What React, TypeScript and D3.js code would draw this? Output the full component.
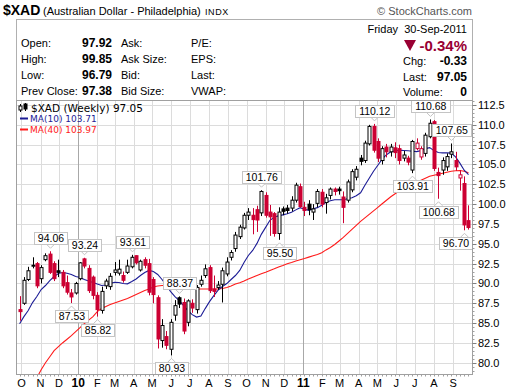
import React from "react";
import * as d3 from "d3";

const W = 520;
const H = 391;

// weekly bars, one per week (Monday of each week), Sep 2009 .. Sep 2011
const weekStarts = d3.timeMonday.range(new Date(2009, 8, 28), new Date(2011, 8, 27));

const priorClose = 87.0;
const opens = [86.7,87.5,90.5,92.2,92.5,90.6,93.0,93.7,92.5,91.6, 91.4,90.1,88.8,88.8,90.6,93.1,91.9,90.8,88.5,86.6,
  89.7,89.6,91.4,91.3,91.0,91.4,92.1,93.5,91.7,93.0, 92.5,90.5,88.2,82.8,83.3,81.7,86.0,88.2,87.6,85.1,
  87.5,86.7,89.9,91.0,92.0,89.3,89.5,89.9,91.2,93.3, 94.4,95.9,97.0,98.6,98.6,99.3,98.9,101.1,99.0,98.8,
  96.3,99.4,99.5,99.5,100.5,102.2,99.6,100.0,99.0,100.1, 101.5,100.2,101.1,101.9,101.9,100.9,100.5,101.8,103.4,105.8,
  105.5,107.6,109.8,107.9,105.5,107.2,106.6,107.1,107.0,105.8, 105.8,104.3,107.0,105.95,106.4,108.5,110.4,104.0,104.3,104.7,
  106.3,105.5,103.3,102.6,97.92];
const highs = [88.4,90.8,92.1,93.3,92.7,92.3,93.8,94.06,92.8,93.0, 91.7,91.0,89.3,90.2,92.7,93.24,92.3,91.0,88.9,89.6,
  90.6,91.3,92.7,93.0,91.5,93.0,93.61,93.55,93.0,93.3, 93.1,90.8,88.5,85.5,84.0,85.5,87.9,88.37,88.1,88.0,
  88.0,89.8,91.0,92.4,92.3,91.0,90.3,92.0,93.3,94.2, 96.5,97.4,98.9,99.5,99.5,99.8,101.76,101.5,99.9,99.0,
  99.6,99.7,99.9,101.0,102.7,102.6,100.3,100.5,100.0,101.9, 101.9,101.3,102.1,102.1,102.2,101.6,103.1,104.4,104.8,106.2,
  108.0,110.0,110.12,108.3,107.3,107.6,107.6,107.8,107.5,106.7, 106.1,108.1,108.3,107.3,109.0,110.68,110.6,104.6,105.9,106.4,
  107.65,106.6,104.3,103.5,99.85];
const lows = [85.3,87.3,90.3,91.9,89.4,90.0,92.8,91.2,90.3,90.8, 89.4,88.6,87.53,88.6,90.4,91.9,88.8,88.0,85.82,86.2,
  89.3,89.2,91.0,91.0,90.1,91.2,91.9,92.4,91.5,91.9, 88.5,87.5,81.8,81.9,81.7,80.93,85.3,86.9,83.6,84.6,
  86.3,86.2,89.6,90.7,88.8,88.3,89.2,87.6,90.9,92.9, 94.0,95.6,96.8,98.0,96.2,96.5,98.5,98.3,96.0,95.9,
  95.5,98.6,98.8,99.1,100.2,99.5,98.5,98.6,98.0,99.6, 99.6,98.8,100.6,101.1,101.2,97.6,100.2,101.5,103.0,104.9,
  105.2,107.4,106.5,105.3,105.0,105.9,106.0,105.8,105.0,105.4, 104.9,103.91,106.8,105.6,106.0,108.3,104.2,100.68,103.7,104.2,
  105.8,104.2,101.7,96.70,96.79];
const closes = [86.45,90.4,91.6,92.3,89.7,92.0,93.5,91.4,90.6,91.4, 89.7,88.9,88.3,90.0,92.6,92.2,89.1,88.5,86.7,89.0,
  90.3,90.9,91.7,91.8,90.4,92.2,93.3,92.6,92.8,92.3, 88.9,88.6,83.0,84.7,82.2,85.1,87.2,87.4,84.0,87.8,
  86.9,89.5,90.4,91.85,89.1,89.0,89.8,91.6,92.7,93.9, 96.1,97.1,98.6,99.0,98.05,98.0,101.6,98.6,98.4,96.3,
  99.0,99.1,99.2,100.5,102.4,99.7,99.2,99.3,99.4,101.6, 100.0,100.8,101.9,101.6,101.7,99.6,102.8,104.1,104.4,105.4,
  107.7,109.8,106.8,105.8,107.0,106.6,107.2,106.5,105.5,106.2, 105.3,107.9,107.7,107.0,108.7,110.2,104.5,103.6,105.5,106.0,
  106.6,104.7,103.7,97.38,97.05];

// moving averages, one per bar
const ma10 = [84.93,85.82,86.58,87.59,88.35,89.23,89.74,90.37,90.88,91.26, 91.38,91.29,91.13,90.88,90.75,90.50,90.31,90.12,89.93,89.74,
  89.80,89.99,90.16,90.12,89.99,89.95,90.24,90.56,91.00,91.38, 91.64,91.51,91.13,90.50,89.74,88.98,88.35,87.84,87.21,86.58,
  86.07,85.76,85.88,86.83,87.71,88.47,89.17,89.61,89.99,90.50, 91.00,91.64,92.65,93.53,94.16,95.05,96.19,97.07,97.96,98.34,
  98.53,98.65,98.78,98.97,99.28,99.56,99.35,99.22,99.41,99.56, 99.85,100.23,100.42,100.55,100.55,100.55,100.68,100.80,101.06,101.43,
  102.38,103.27,104.15,104.91,105.67,106.24,106.59,106.71,106.81,106.77, 106.73,106.68,106.62,106.75,107.00,107.13,106.75,106.52,106.47,106.47,
  106.43,105.96,105.17,104.28,103.71];
const ma40 = [74.44,75.32,76.21,77.09,78.11,79.12,80.00,80.76,81.52,82.03, 82.53,82.97,83.42,83.92,84.43,84.93,85.38,85.82,86.45,86.83,
  87.08,87.34,87.53,87.72,87.91,88.09,88.35,88.60,88.85,89.11, 89.30,89.55,89.68,89.74,89.74,89.74,89.74,89.74,89.68,89.55,
  89.42,89.32,89.30,89.30,89.30,89.30,89.32,89.36,89.48,89.68, 89.93,90.08,90.31,90.56,90.79,91.00,91.22,91.42,91.64,91.85,
  92.08,92.27,92.48,92.65,92.84,93.00,93.15,93.32,93.49,93.66, 93.87,94.23,94.54,94.92,95.36,95.81,96.31,96.82,97.33,97.83,
  98.27,98.72,99.16,99.60,100.05,100.49,100.93,101.31,101.69,101.94, 102.26,102.51,102.76,103.02,103.27,103.52,103.65,103.77,103.90,104.03,
  104.15,104.22,104.24,104.15,103.97];

// bars that carry a price flag
const highFlags = [7, 15, 26, 37, 56, 82, 95, 100];
const lowFlags = [12, 18, 35, 60, 91, 97, 103];

const yTicks = [80, 82.5, 85, 87.5, 90, 92.5, 95, 97.5, 100, 102.5, 105, 107.5, 110, 112.5];
const monthLetters = ["J", "F", "M", "A", "M", "J", "J", "A", "S", "O", "N", "D"];

const RED = "#cc0033";
const L = 16.5, R = 472.5, T = 100.5, B = 374.5;

export default function App() {
  const x = d3.scaleTime().domain([new Date(2009, 8, 23), new Date(2011, 9, 2, 12)]).range([L, R]);
  const y = d3.scaleLinear().domain([78.52, 113.07]).range([B, T]);
  const months = d3.timeMonth.range(new Date(2009, 9, 1), new Date(2011, 9, 1));

  const bars = weekStarts.slice(0, closes.length).map((d, i) => {
    const prev = i ? closes[i - 1] : priorClose;
    return { d, o: opens[i], h: highs[i], l: lows[i], c: closes[i],
      color: closes[i] < prev ? RED : "#000", hollow: closes[i] >= opens[i] };
  });
  const px = (i) => Math.round(x(bars[i].d)) + 0.5;

  const maLine = d3.line().x((v, i) => x(bars[i].d)).y((v) => y(v));

  const flag = (i, isHigh) => {
    const v = isHigh ? highs[i] : lows[i];
    const txt = v.toFixed(2);
    const w = txt.length * 5.6 + 5;
    const cx = px(i);
    const bx = Math.max(L + 1, Math.min(R - 1 - w, cx - w / 2));
    const by = isHigh ? y(v) - 7 - 12 : y(v) + 7;
    const tip = isHigh ? `M${cx - 4},${by + 12} L${cx},${by + 16} L${cx + 4},${by + 12}` : `M${cx - 4},${by} L${cx},${by - 4} L${cx + 4},${by}`;
    return (
      <g key={(isHigh ? "h" : "l") + i}>
        <path d={tip} fill="#fff" stroke="#c4c4c4" />
        <rect x={Math.round(bx) + 0.5} y={Math.round(by) + 0.5} width={Math.round(w)} height={12} fill="#fff" stroke="#c4c4c4" />
        <text x={Math.round(bx) + 0.5 + w / 2} y={Math.round(by) + 10} textAnchor="middle" fontSize={10.5} fill="#000">{txt}</text>
      </g>
    );
  };

  const hdr = { fontSize: 11, fill: "#000" };
  const val = { fontSize: 12, fontWeight: "bold", fill: "#000", textAnchor: "end" };

  return (
    <svg width={W} height={H} style={{ position: "absolute", left: 0, top: 0, background: "#fff" }}
      fontFamily="'Liberation Sans', Arial, sans-serif">
      <defs>
        <clipPath id="plotClip"><rect x={L} y={T} width={R - L} height={B - T} /></clipPath>
      </defs>

      {/* title */}
      <text x={3} y={15} fontSize={14} fontWeight="bold">$XAD</text>
      <text x={43} y={15} fontSize={11}>(Australian Dollar - Philadelphia)</text>
      <text x={205} y={15} fontSize={9} letterSpacing={0.6}>INDX</text>
      <text x={472} y={15} fontSize={11} fill="#555" textAnchor="end">© StockCharts.com</text>

      {/* quote box */}
      <rect x={L} y={19.5} width={R - L} height={T - 19.5} fill="#fff" stroke="#b0b0b0" />
      <text x={21} y={47} {...hdr}>Open:</text>
      <text x={21} y={63} {...hdr}>High:</text>
      <text x={21} y={79} {...hdr}>Low:</text>
      <text x={21} y={95} {...hdr}>Prev Close:</text>
      <text x={112} y={47} {...val}>{opens[opens.length - 1].toFixed(2)}</text>
      <text x={112} y={63} {...val}>{highs[highs.length - 1].toFixed(2)}</text>
      <text x={112} y={79} {...val}>{lows[lows.length - 1].toFixed(2)}</text>
      <text x={112} y={95} {...val}>{closes[closes.length - 2].toFixed(2)}</text>
      <text x={121} y={47} {...hdr}>Ask:</text>
      <text x={121} y={63} {...hdr}>Ask Size:</text>
      <text x={121} y={79} {...hdr}>Bid:</text>
      <text x={121} y={95} {...hdr}>Bid Size:</text>
      <text x={191} y={47} {...hdr}>P/E:</text>
      <text x={191} y={63} {...hdr}>EPS:</text>
      <text x={191} y={79} {...hdr}>Last:</text>
      <text x={191} y={95} {...hdr}>VWAP:</text>

      <text x={398} y={33} {...hdr} textAnchor="end">Friday</text>
      <text x={467} y={33} {...hdr} textAnchor="end">30-Sep-2011</text>
      <path d="M404,40 L416,40 L410,51 Z" fill="#990033" />
      <text x={467} y={51} fontSize={15} fontWeight="bold" fill="#990033" textAnchor="end">-0.34%</text>
      <text x={403} y={65} {...hdr}>Chg:</text>
      <text x={403} y={81} {...hdr}>Last:</text>
      <text x={403} y={96} {...hdr}>Volume:</text>
      <text x={467} y={65} {...val}>-0.33</text>
      <text x={467} y={81} {...val}>{closes[closes.length - 1].toFixed(2)}</text>
      <text x={467} y={96} {...val}>0</text>

      {/* grid */}
      <rect x={L} y={T} width={R - L} height={B - T} fill="#fff" />
      {yTicks.map((t) => (
        <line key={"gy" + t} x1={L} x2={R} y1={Math.round(y(t)) + 0.5} y2={Math.round(y(t)) + 0.5} stroke="#dcdcdc" />
      ))}
      {months.map((m) => (
        <line key={"gx" + m.getTime()} x1={Math.round(x(m)) + 0.5} x2={Math.round(x(m)) + 0.5} y1={T} y2={B}
          stroke={m.getMonth() === 0 ? "#a8a8a8" : "#dcdcdc"} />
      ))}

      {/* moving averages */}
      <g clipPath="url(#plotClip)">
        <path d={maLine(ma40)} fill="none" stroke="#ff1a1a" strokeWidth={1.1} />
        <path d={maLine(ma10)} fill="none" stroke="#1c1c96" strokeWidth={1.1} />
      </g>

      {/* candles */}
      <g>
        {bars.map((b, i) => {
          const cx = px(i);
          const top = y(Math.max(b.o, b.c));
          const bot = y(Math.min(b.o, b.c));
          return (
            <g key={"c" + i}>
              <line x1={cx} x2={cx} y1={y(b.h)} y2={y(b.l)} stroke={b.color} />
              <rect x={cx - 1.5} y={top} width={3} height={Math.max(1, bot - top)}
                fill={b.hollow ? "#fff" : b.color} stroke={b.color} />
            </g>
          );
        })}
      </g>

      {highFlags.map((i) => flag(i, true))}
      {lowFlags.map((i) => flag(i, false))}

      {/* legend */}
      <g fontFamily="'DejaVu Sans', Verdana, sans-serif">
        <line x1={20.5} x2={20.5} y1={104} y2={112} stroke="#000" />
        <rect x={19} y={106} width={3} height={4} fill="#fff" stroke="#000" />
        <line x1={25.5} x2={25.5} y1={103} y2={111} stroke="#000" />
        <rect x={24} y={104} width={3} height={5} fill="#000" stroke="#000" />
        <text x={31} y={111.5} fontSize={10.5}>$XAD (Weekly) {closes[closes.length - 1].toFixed(2)}</text>
        <line x1={20} x2={28} y1={118.5} y2={118.5} stroke="#1c1c96" strokeWidth={2} />
        <text x={30} y={122} fontSize={9} fill="#1c1c96">MA(10) {ma10[ma10.length - 1].toFixed(2)}</text>
        <line x1={20} x2={28} y1={129.5} y2={129.5} stroke="#ff1a1a" strokeWidth={2} />
        <text x={30} y={133} fontSize={9} fill="#ff1a1a">MA(40) {ma40[ma40.length - 1].toFixed(2)}</text>
      </g>

      {/* frame */}
      <rect x={L} y={T} width={R - L} height={B - T} fill="none" stroke="#a0a0a0" />

      {/* y axis */}
      {d3.range(79, 113.01, 0.5).map((t) => (
        <line key={"my" + t} x1={R} x2={R + 2} y1={Math.round(y(t)) + 0.5} y2={Math.round(y(t)) + 0.5} stroke="#a0a0a0" />
      ))}
      {yTicks.map((t) => (
        <g key={"ty" + t}>
          <line x1={R} x2={R + 4} y1={Math.round(y(t)) + 0.5} y2={Math.round(y(t)) + 0.5} stroke="#808080" />
          <text x={478} y={y(t) + 4} fontSize={11}>{t.toFixed(1)}</text>
        </g>
      ))}

      {/* x axis */}
      {bars.map((b, i) => (
        <line key={"wx" + i} x1={px(i)} x2={px(i)} y1={B} y2={B + 2} stroke="#a0a0a0" />
      ))}
      {months.map((m) => {
        const jan = m.getMonth() === 0;
        return (
          <text key={"mx" + m.getTime()} x={x(m)} y={387} fontSize={jan ? 12 : 11} fontWeight={jan ? "bold" : "normal"}
            textAnchor="middle">{jan ? d3.timeFormat("%y")(m) : monthLetters[m.getMonth()]}</text>
        );
      })}
    </svg>
  );
}
